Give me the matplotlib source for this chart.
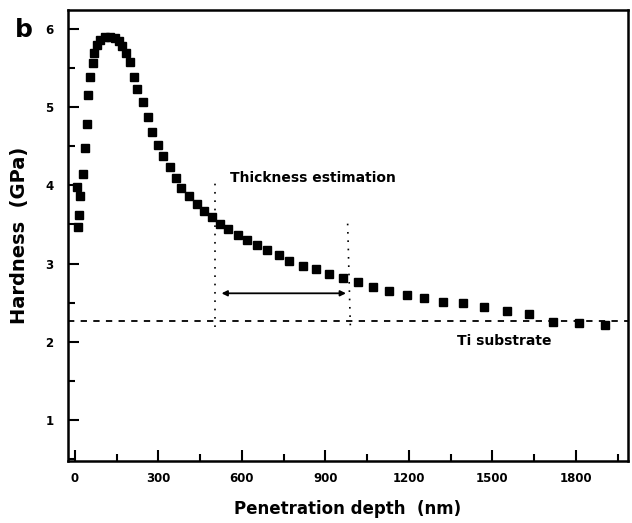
import matplotlib
matplotlib.use("Agg")
import matplotlib.pyplot as plt
from matplotlib.ticker import MultipleLocator

# hardness vs penetration depth (nanoindentation)
depth_nm = [6, 20, 15, 10, 30, 36, 42, 48, 54, 66, 69, 78, 90, 108, 126, 144,
            158, 170, 182, 198, 213, 225, 243, 261, 276, 299, 317, 341, 363,
            383, 411, 437, 463, 491, 521, 551, 585, 617, 653, 692, 733, 770,
            818, 865, 914, 962, 1016, 1070, 1129, 1192, 1254, 1323, 1395,
            1470, 1551, 1632, 1719, 1811, 1904]
hardness_gpa = [3.98, 3.86, 3.62, 3.47, 4.15, 4.48, 4.78, 5.15, 5.39, 5.56,
                5.69, 5.79, 5.86, 5.90, 5.90, 5.88, 5.85, 5.78, 5.69, 5.57,
                5.39, 5.23, 5.06, 4.87, 4.68, 4.51, 4.37, 4.23, 4.09, 3.97,
                3.86, 3.76, 3.67, 3.59, 3.51, 3.44, 3.37, 3.30, 3.24, 3.17,
                3.11, 3.03, 2.97, 2.93, 2.87, 2.82, 2.76, 2.70, 2.65, 2.60,
                2.56, 2.51, 2.49, 2.45, 2.39, 2.35, 2.25, 2.24, 2.21]

substrate_hardness = 2.26
film_start_nm = 505
film_end_nm = 985
arrow_left_nm = 527
arrow_right_nm = 974
arrow_level = 2.62

fig = plt.figure(figsize=(6.32, 5.23), dpi=100)
ax = fig.add_axes([0.107, 0.119, 0.8866, 0.8618])

ax.plot(depth_nm, hardness_gpa, linestyle="none", marker="s",
        markersize=5.2, color="black")

# substrate reference level
ax.axhline(substrate_hardness, color="black", linestyle=(0, (3.5, 3.5)),
           linewidth=1.3)

# thickness markers
ax.plot([film_start_nm, film_start_nm], [2.19, 4.05], color="black",
        linestyle=(0, (1, 4)), linewidth=1.2)
ax.plot([film_end_nm - 5, film_end_nm + 5], [3.51, 2.15], color="black",
        linestyle=(0, (1, 4)), linewidth=1.2)
ax.annotate("", xy=(arrow_left_nm, arrow_level),
            xytext=(arrow_right_nm, arrow_level),
            arrowprops=dict(arrowstyle="<|-|>", color="black", lw=1.3,
                            mutation_scale=8, shrinkA=0, shrinkB=0))

ax.text(557, 4.09, "Thickness estimation", fontsize=10, fontweight="bold",
        va="center", ha="left")
ax.text(1373, 2.01, "Ti substrate", fontsize=10, fontweight="bold",
        va="center", ha="left")

ax.set_xlim(-26, 1987)
ax.set_ylim(0.48, 6.24)
ax.xaxis.set_major_locator(MultipleLocator(300))
ax.xaxis.set_minor_locator(MultipleLocator(150))
ax.yaxis.set_major_locator(MultipleLocator(1))
ax.yaxis.set_minor_locator(MultipleLocator(0.5))
ax.set_yticks([1, 2, 3, 4, 5, 6])

ax.tick_params(which="both", direction="in", width=1.5, top=False,
               right=False)
ax.tick_params(which="major", length=8, labelsize=8.5)
ax.tick_params(axis="x", which="major", pad=8)
ax.tick_params(axis="y", which="major", pad=10)
ax.tick_params(which="minor", length=5)
for lbl in ax.get_xticklabels() + ax.get_yticklabels():
    lbl.set_fontweight("bold")

for spine in ax.spines.values():
    spine.set_linewidth(1.8)

ax.set_xlabel("Penetration depth  (nm)", fontsize=12, fontweight="bold",
              labelpad=11)
ax.set_ylabel("Hardness  (GPa)", fontsize=14, fontweight="bold",
              labelpad=12)

fig.text(0.024, 0.93, "b", fontsize=18, fontweight="bold")

fig.savefig("out.png", dpi=100)
